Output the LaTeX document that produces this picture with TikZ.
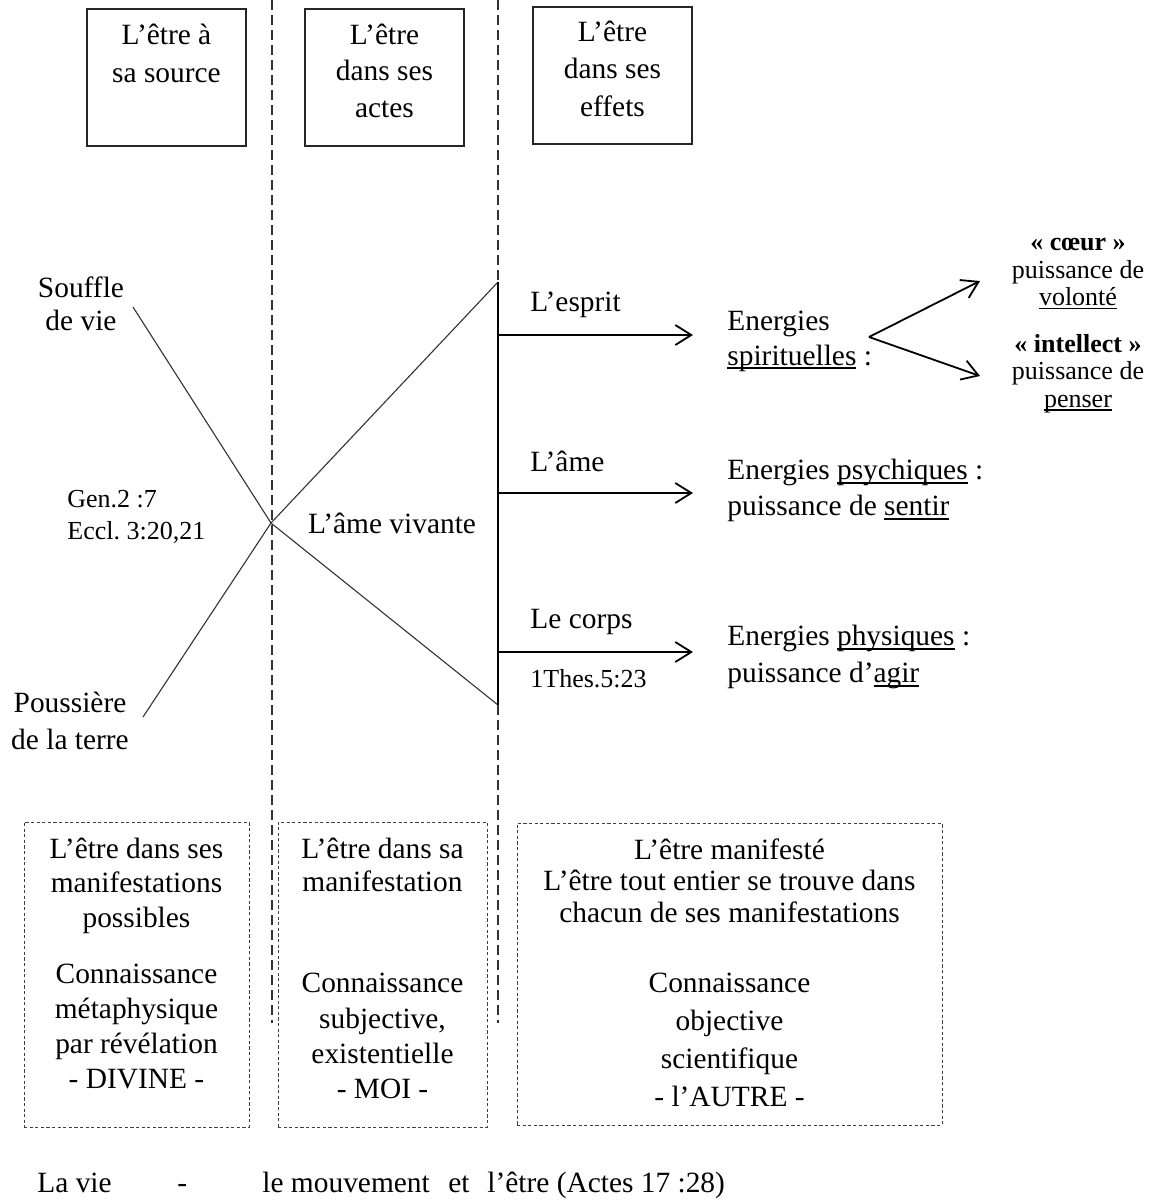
\documentclass[tikz,border=0pt]{standalone}
\usepackage{fontspec}
\setmainfont{Liberation Serif}
\usetikzlibrary{arrows.meta}
\newcommand\myul[1]{\setbox0\hbox{#1}\rlap{\rule[-0.14em]{\wd0}{0.06em}}\box0\relax}
\AtBeginDocument{\frenchspacing}
\begin{document}
\begin{tikzpicture}[x=0.5pt,y=-0.5pt,
  txt/.style={inner sep=0pt, align=center, font=\fontsize{14.7}{#1}\selectfont},
  txt/.default=18,
  stxt/.style={inner sep=0pt, align=center, font=\fontsize{13}{#1}\selectfont},
  stxt/.default=15,
  topbox/.style={draw=black!85, line width=0.8pt, inner sep=0pt},
  dotbox/.style={draw=black!75, line width=0.5pt, dash pattern=on 1.6pt off 1.2pt, inner sep=0pt},
  sepline/.style={draw=black!80, line width=0.9pt, dash pattern=on 5pt off 2.5pt},
  thinline/.style={draw=black!80, line width=0.55pt},
  arr/.style={draw=black, line width=0.9pt, -{Straight Barb[length=8pt,width=10pt,line width=0.9pt]}},
]
\fill[white] (0,0) rectangle (1154,1201);
\useasboundingbox (0,0) rectangle (1154,1201);

% dashed separators
\coordinate (d1t) at (272,0); \coordinate (d1b) at (272,1023);
\coordinate (d2t) at (498,0); \coordinate (d2b) at (498,1023);
\draw[sepline] (d1t) -- (d1b);
\draw[sepline] (d2t) -- (d2b);

% top boxes
\node[topbox, minimum width=79.5pt, minimum height=68.5pt] (box1) at (166.5,77.5) {};
\node[topbox, minimum width=79.5pt, minimum height=68.5pt] (box2) at (384.5,77.5) {};
\node[topbox, minimum width=79.5pt, minimum height=68.5pt] (box3) at (612.5,75.5) {};
\node[txt=19] (t1) at (166.5,53) {L’être à\\sa source};
\node[txt=18.25] (t2) at (384.5,70.5) {L’être\\dans ses\\actes};
\node[txt=18.75] (t3) at (612.5,68.5) {L’être\\dans ses\\effets};

% left labels
\node[txt=16.5] (souffle) at (81,303.5) {Souffle\\de vie};
\node[txt=18.5] (pouss) at (70,720.5) {Poussière\\de la terre};
\node[stxt=16, align=left, anchor=west] (gen) at (67,517) {Gen.2 :7\\Eccl. 3:20,21};
\node[txt, anchor=base] (amev) at (392,533) {L’âme vivante};

% crossing lines
\coordinate (S) at (133,307);
\coordinate (P) at (143,717);
\coordinate (X) at (271,523);
\coordinate (T) at (498,282);
\coordinate (B) at (498,705);
\draw[thinline] (S) -- (X) -- (B);
\draw[thinline] (P) -- (X) -- (T);
\draw[line width=0.9pt] (T) -- (B);

% arrows from the vertical line
\coordinate (r1) at (498,335); \coordinate (r1e) at (693,335);
\coordinate (r2) at (498,493); \coordinate (r2e) at (693,493);
\coordinate (r3) at (498,652); \coordinate (r3e) at (693,652);
\draw[arr] (r1) -- (r1e);
\draw[arr] (r2) -- (r2e);
\draw[arr] (r3) -- (r3e);

\node[txt, anchor=base west] (esprit) at (530,311) {L’esprit};
\node[txt, anchor=base west] (ame) at (530,471) {L’âme};
\node[txt, anchor=base west] (corps) at (530,628) {Le corps};
\node[stxt, anchor=base west] (thes) at (530,687) {1Thes.5:23};

% energies
\node[txt=17.5, align=left, anchor=west] (e1) at (727,341) {Energies\\\myul{spirituelles} :};
\node[txt=18, align=left, anchor=west] (e2) at (727,490.5) {Energies \myul{psychiques} :\\puissance de \myul{sentir}};
\node[txt=18.5, align=left, anchor=west] (e3) at (727,657) {Energies \myul{physiques} :\\puissance d’\myul{agir}};

% branch
\coordinate (br) at (869,337);
\coordinate (bru) at (980,281);
\coordinate (brd) at (980,376);
\draw[arr] (br) -- (bru);
\draw[arr] (br) -- (brd);

\node[stxt=13.75] (coeur) at (1078,274) {\textbf{«~cœur~»}\\puissance de\\\myul{volonté}};
\node[stxt=13.75] (intel) at (1078,373.5) {\textbf{«~intellect~»}\\puissance de\\\myul{penser}};

% bottom boxes
\node[dotbox, minimum width=112.5pt, minimum height=152.5pt] (bA) at (136.5,974.5) {};
\node[dotbox, minimum width=104.5pt, minimum height=152.5pt] (bB) at (382.5,974.5) {};
\node[dotbox, minimum width=212.5pt, minimum height=151pt] (bC) at (729.5,974) {};

\node[txt=17.25] (a1) at (136.5,885.5) {L’être dans ses\\manifestations\\possibles};
\node[txt=17.5] (a2) at (136.5,1026.5) {Connaissance\\métaphysique\\par révélation\\- DIVINE -};
\node[txt=16.5] (b1) at (382.5,864.5) {L’être dans sa\\manifestation};
\node[txt=17.6] (b2) at (382.5,1036) {Connaissance\\subjective,\\existentielle\\- MOI -};
\node[txt=15.75] (c1) at (729.5,880.5) {L’être manifesté\\L’être tout entier se trouve dans\\chacun de ses manifestations};
\node[txt=19] (c2) at (729.5,1040) {Connaissance\\objective\\scientifique\\- l’AUTRE -};

% bottom line
\node[txt, anchor=base west] (lavie) at (37,1192) {La vie};
\node[txt, anchor=base west] (tiret) at (177,1192) {-};
\node[txt, anchor=base west] (mouv) at (262,1192) {le mouvement};
\node[txt, anchor=base west] (et) at (448,1192) {et};
\node[txt, anchor=base west] (etre) at (487,1192) {l’être (Actes 17 :28)};
\end{tikzpicture}
\end{document}
